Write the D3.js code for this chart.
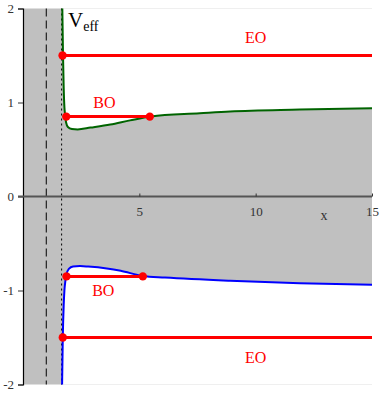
<!DOCTYPE html>
<html>
<head>
<meta charset="utf-8">
<script src="https://cdn.jsdelivr.net/npm/d3@7"></script>
<style>
  body { margin: 0; background: #fff; }
  svg { display: block; }
  text { font-family: "Liberation Serif", "Times New Roman", serif; }
</style>
</head>
<body>
<div id="chart"></div>
<script>
// upper effective potential (green)
const upperX = [1.69, 1.72, 1.75, 1.78, 1.81, 1.85, 1.93, 2.1, 2.35, 2.9, 3.75, 4.6, 5.5, 7.6, 8.9, 11.9, 15];
const upperV = [2.0, 1.5, 1.15, 0.95, 0.87, 0.79, 0.74, 0.718, 0.713, 0.733, 0.766, 0.81, 0.851, 0.885, 0.905, 0.925, 0.94];

// lower effective potential (blue)
const lowerX = [1.68, 1.71, 1.75, 1.78, 1.82, 1.87, 1.97, 2.15, 2.45, 2.8, 3.6, 4.2, 5.15, 6.1, 8.9, 11.9, 15];
const lowerV = [-2.0, -1.5, -1.15, -1.0, -0.9, -0.83, -0.77, -0.745, -0.74, -0.745, -0.765, -0.79, -0.846, -0.862, -0.896, -0.922, -0.94];

// orbits: energy level, start and end x
const orbitNames = ["EO", "BO", "BO", "EO"];
const orbitE     = [1.5, 0.85, -0.85, -1.5];
const orbitStart = [1.70, 1.86, 1.87, 1.71];
const orbitEnd   = [15, 5.45, 5.15, 15];
const orbitDots  = [[1.70], [1.86, 5.45], [1.87, 5.15], [1.71]];

const yTicks = [-2, -1, 0, 1, 2];
const xTicks = [5, 10, 15];
const dashedX = 1.0;   // dashed vertical line
const dottedX = 1.66;  // dotted vertical line

const W = 382, H = 393;

const svg = d3.select('#chart').append('svg')
  .attr('width', W).attr('height', H);

const x = d3.scaleLinear().domain([0, 15]).range([23, 372]);
const y = d3.scaleLinear().domain([-2, 2]).range([384.5, 8.5]);

const upper = upperX.map((d, i) => [d, upperV[i]]);
const lower = lowerX.map((d, i) => [d, lowerV[i]]);

// grey forbidden region: whole box, then cut away what is allowed
svg.append('rect')
  .attr('x', x(0)).attr('y', y(2))
  .attr('width', x(15) - x(0)).attr('height', y(-2) - y(2))
  .attr('fill', '#c0c0c0');

const areaTop = d3.area()
  .x(d => x(d[0])).y0(y(2)).y1(d => y(d[1]))
  .curve(d3.curveMonotoneX);
const areaBot = d3.area()
  .x(d => x(d[0])).y0(y(-2)).y1(d => y(d[1]))
  .curve(d3.curveMonotoneX);

svg.append('path').attr('d', areaTop(upper)).attr('fill', '#fff');
svg.append('path').attr('d', areaBot(lower)).attr('fill', '#fff');

// vertical reference lines
svg.append('line')
  .attr('x1', x(dashedX)).attr('x2', x(dashedX))
  .attr('y1', y(2)).attr('y2', y(-2))
  .attr('stroke', '#000').attr('stroke-width', 1)
  .attr('stroke-dasharray', '8,4');
svg.append('line')
  .attr('x1', x(dottedX)).attr('x2', x(dottedX))
  .attr('y1', y(2)).attr('y2', y(-2))
  .attr('stroke', '#000').attr('stroke-width', 1)
  .attr('stroke-dasharray', '2,3');

// axes
const yAxis = svg.append('g')
  .attr('transform', `translate(${x(0)},0)`)
  .call(d3.axisLeft(y).tickValues(yTicks).tickSize(5).tickPadding(4)
    .tickFormat(d => d3.format('d')(d).replace('−', '-')))
  .attr('font-family', '"Liberation Serif", serif');
yAxis.select('.domain').attr('stroke', '#000').attr('stroke-width', 1.2);
yAxis.selectAll('.tick line').attr('stroke', '#333');
yAxis.selectAll('text').attr('font-size', 13).attr('fill', '#333');

const xAxis = svg.append('g')
  .attr('transform', `translate(0,${y(0)})`)
  .call(d3.axisBottom(x).tickValues(xTicks).tickSize(-3).tickPadding(10).tickSizeOuter(0))
  .attr('font-family', '"Liberation Serif", serif');
xAxis.select('.domain').attr('stroke', '#555').attr('stroke-width', 2)
  .attr('d', `M${x(0) - 5},0H${x(15)}`);
xAxis.selectAll('.tick line').attr('stroke', '#333');
xAxis.selectAll('text').attr('font-size', 13).attr('fill', '#333');

svg.append('text')
  .attr('x', 324).attr('y', y(0) + 23)
  .attr('text-anchor', 'middle')
  .attr('font-size', 14).attr('fill', '#333')
  .text('x');

// potential curves
const line = d3.line().x(d => x(d[0])).y(d => y(d[1])).curve(d3.curveMonotoneX);
svg.append('path').attr('d', line(upper))
  .attr('fill', 'none').attr('stroke', '#006400').attr('stroke-width', 2);
svg.append('path').attr('d', line(lower))
  .attr('fill', 'none').attr('stroke', '#0000ff').attr('stroke-width', 2);

// orbits
orbitE.forEach((e, i) => {
  svg.append('line')
    .attr('x1', x(orbitStart[i])).attr('x2', x(orbitEnd[i]))
    .attr('y1', y(e)).attr('y2', y(e))
    .attr('stroke', '#ff0000').attr('stroke-width', 3);
  orbitDots[i].forEach(dx => {
    svg.append('circle')
      .attr('cx', x(dx)).attr('cy', y(e)).attr('r', 4.2)
      .attr('fill', '#ff0000');
  });
});

// orbit labels
const labelPos = [[10, 1.63], [3.5, 0.94], [3.45, -1.06], [10, -1.77]];
orbitNames.forEach((n, i) => {
  svg.append('text')
    .attr('x', x(labelPos[i][0])).attr('y', y(labelPos[i][1]))
    .attr('text-anchor', 'middle')
    .attr('font-size', 16).attr('fill', '#ff0000')
    .text(n);
});

// V_eff label
const veff = svg.append('text').attr('x', 68).attr('y', 26.5).attr('fill', '#000');
veff.append('tspan').attr('font-size', 21).text('V');
veff.append('tspan').attr('font-size', 14).attr('dy', 4).text('eff');
</script>
</body>
</html>
